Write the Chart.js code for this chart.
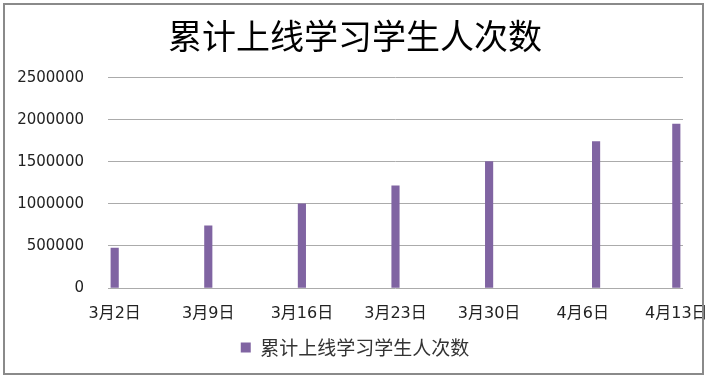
<!DOCTYPE html>
<html>
<head>
<meta charset="utf-8">
<script src="https://cdn.jsdelivr.net/npm/chart.js@4/dist/chart.umd.min.js"></script>
<style>
  html, body { margin: 0; padding: 0; background: #fff; }
  #wrap { position: relative; width: 710px; height: 378px; }
  #frame { position: absolute; left: 3px; top: 3px; width: 697px; height: 368px; border: 2px solid #8a8a8a; pointer-events: none; }
</style>
</head>
<body>
<div id="wrap">
  <canvas id="c" width="710" height="378"></canvas>
  <div id="frame"></div>
</div>
<script>
// ---- data ----
const chartTitle = '累计上线学习学生人次数';
const seriesName = '累计上线学习学生人次数';
const dataDates = ['2020-03-02', '2020-03-09', '2020-03-16', '2020-03-23', '2020-03-30', '2020-04-07', '2020-04-13'];
const values = [475000, 740000, 1000000, 1215000, 1505000, 1740000, 1950000];
const tickDates = ['2020-03-02', '2020-03-09', '2020-03-16', '2020-03-23', '2020-03-30', '2020-04-06', '2020-04-13'];
const tickLabels = ['3月2日', '3月9日', '3月16日', '3月23日', '3月30日', '4月6日', '4月13日'];
const yTicks = [0, 500000, 1000000, 1500000, 2000000, 2500000];

// day offsets from the first date (date axis)
const DAY = 86400000;
const t0 = Date.parse(dataDates[0]);
const dayOf = s => Math.round((Date.parse(s) - t0) / DAY);
const points = dataDates.map((d, i) => ({ x: dayOf(d), y: values[i] }));
const tickDays = tickDates.map(dayOf);
const lastDay = tickDays[tickDays.length - 1];

const cjk = '"Noto Sans CJK SC", sans-serif';
const mixed = '"DejaVu Sans", "Noto Sans CJK SC", sans-serif';

new Chart(document.getElementById('c'), {
  type: 'bar',
  data: {
    datasets: [{
      label: seriesName,
      data: points,
      backgroundColor: '#8064A2',
      borderColor: '#8064A2',
      borderWidth: 0,
      barThickness: 7.5
    }]
  },
  options: {
    responsive: false,
    animation: false,
    layout: { padding: { left: 0, right: 0, top: 0, bottom: 11 } },
    plugins: {
      title: {
        display: true,
        text: chartTitle,
        color: '#000',
        font: { family: cjk, size: 34, weight: 'normal' },
        padding: { top: 16, bottom: 21 }
      },
      legend: {
        position: 'bottom',
        labels: {
          boxWidth: 10,
          boxHeight: 10,
          color: '#333',
          font: { family: cjk, size: 19 }
        }
      },
      tooltip: { enabled: false }
    },
    scales: {
      x: {
        type: 'linear',
        offset: false,
        min: -0.5,
        max: lastDay + 0.5,
        grid: { display: false, offset: false },
        border: { display: false },
        afterBuildTicks: s => { s.ticks = tickDays.map(v => ({ value: v })); },
        afterFit: s => { s.height = 40; s.paddingLeft = 0; s.paddingRight = 0; },
        ticks: {
          autoSkip: false,
          maxRotation: 0,
          minRotation: 0,
          padding: 8,
          color: '#222',
          font: { family: mixed, size: 16 },
          callback: v => tickLabels[tickDays.indexOf(v)]
        }
      },
      y: {
        min: yTicks[0],
        max: yTicks[yTicks.length - 1],
        afterBuildTicks: s => { s.ticks = yTicks.map(v => ({ value: v })); },
        afterFit: s => { s.width = 108; },
        grid: { color: '#ababab', lineWidth: 1, drawTicks: false },
        border: { display: false },
        ticks: {
          padding: 24,
          color: '#222',
          font: { family: mixed, size: 15 },
          callback: v => String(v)
        }
      },
      yr: {
        position: 'right',
        display: true,
        grid: { display: false, drawTicks: false },
        border: { display: false },
        ticks: { display: false },
        afterFit: s => { s.width = 27; }
      }
    }
  }
});
</script>
</body>
</html>
